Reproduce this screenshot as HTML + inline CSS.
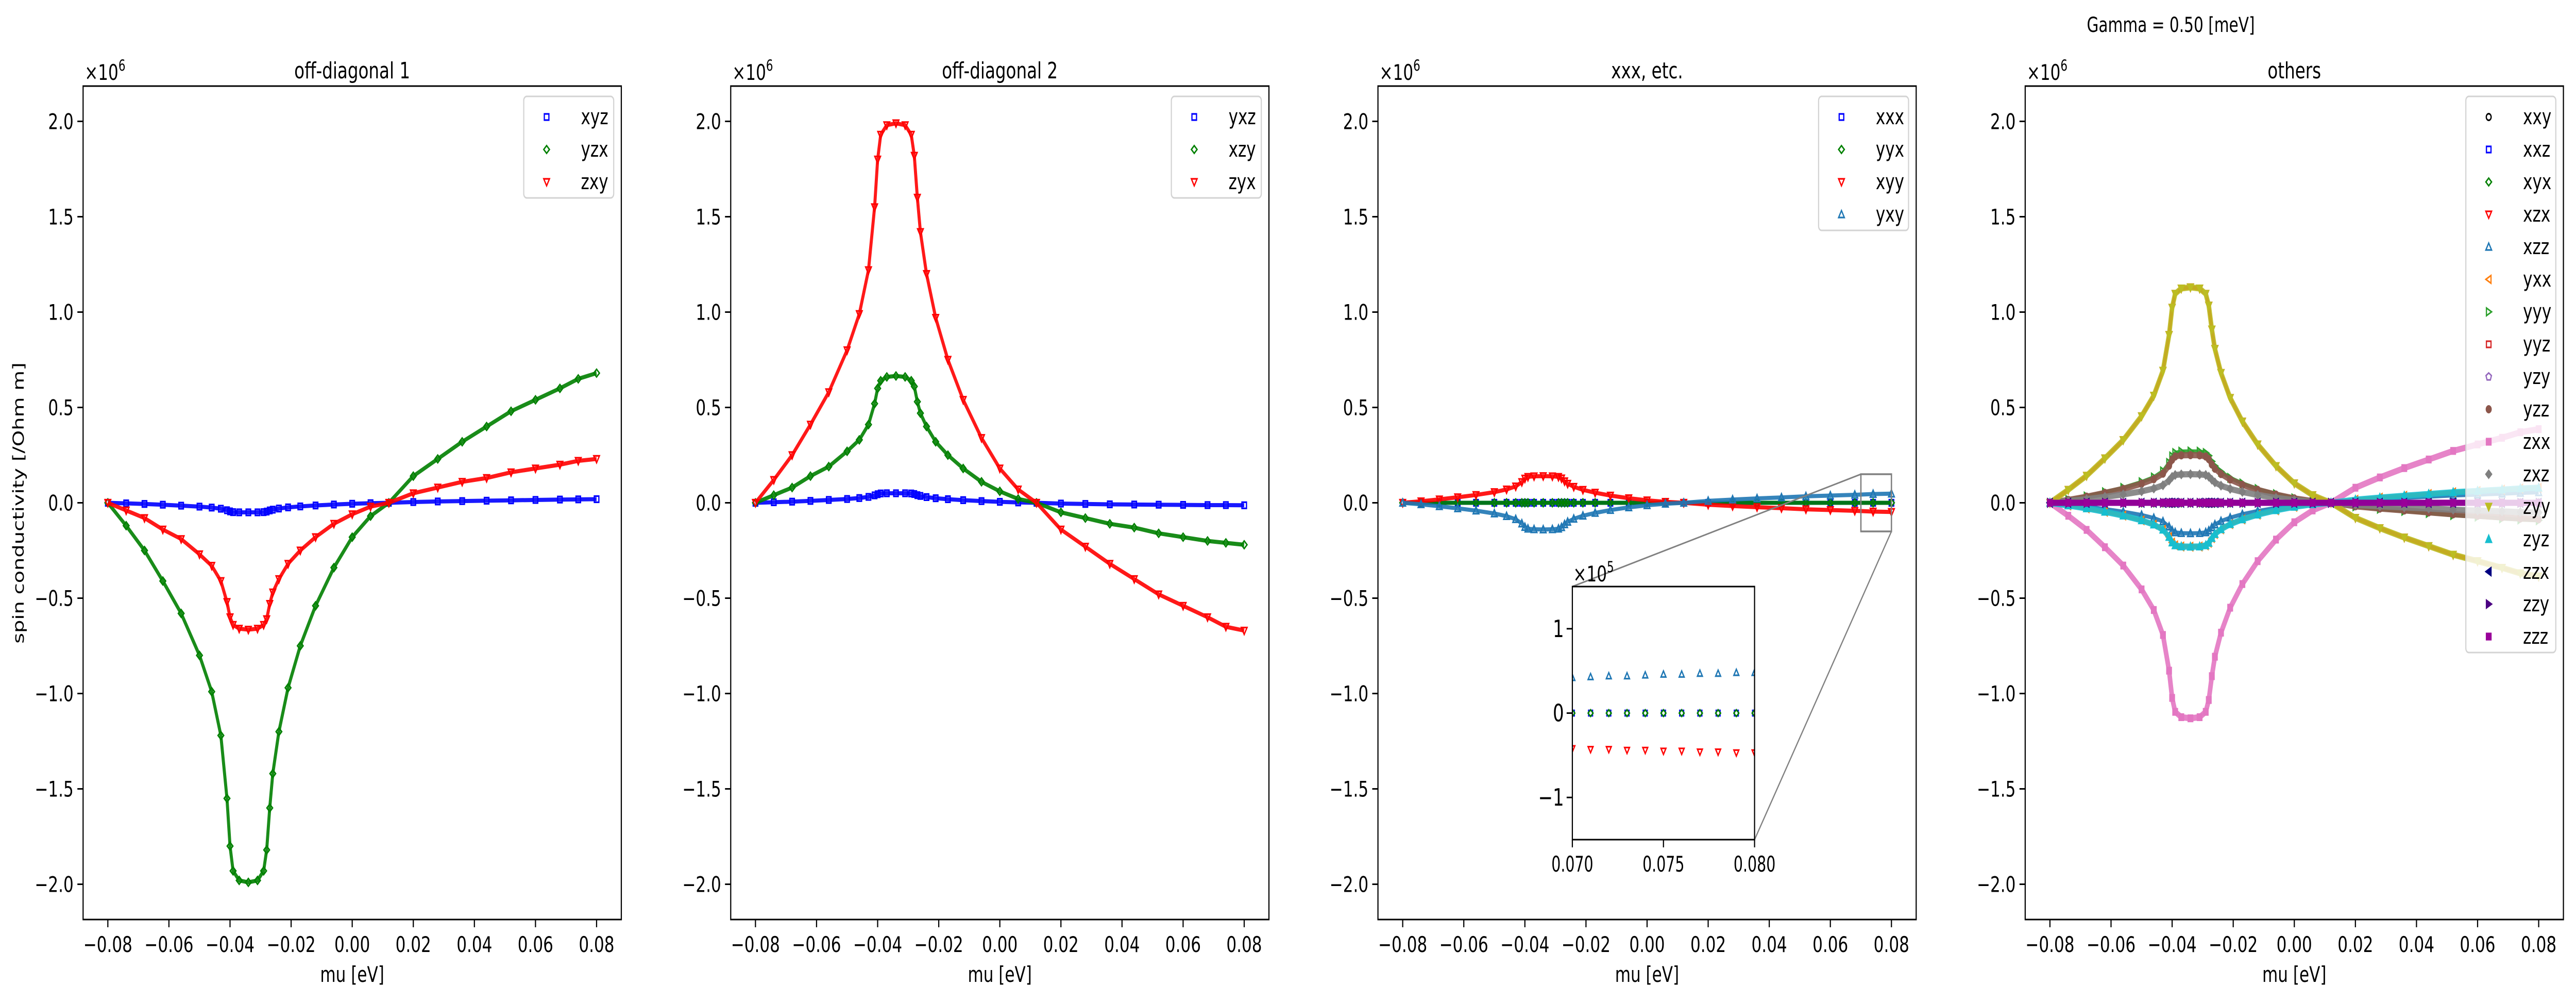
<!DOCTYPE html>
<html><head><meta charset="utf-8">
<style>
html,body{margin:0;padding:0;background:#fff;width:100vw;height:100vh;overflow:hidden;}
svg{display:block;width:100vw;height:100vh;font-family:"DejaVu Sans","Liberation Sans",sans-serif;}
</style></head>
<body>
<svg id="fig" viewBox="0 0 6758 1944" preserveAspectRatio="none" xmlns="http://www.w3.org/2000/svg">
<rect x="0" y="0" width="6758" height="1944" fill="#fff"/>
<text x="5695" y="62" font-size="40" text-anchor="middle">Gamma = 0.50 [meV]</text>
<text transform="translate(62,976) rotate(-90)" font-size="40" text-anchor="middle">spin conductivity [/Ohm m]</text>
</svg>
<script>
// shared chemical potential grid (eV)
const mu = [-0.080,-0.074,-0.068,-0.062,-0.056,-0.050,-0.046,-0.043,-0.041,-0.040,-0.039,-0.037,-0.034,-0.031,-0.029,-0.028,-0.027,-0.026,-0.024,-0.021,-0.017,-0.012,-0.006,0.000,0.006,0.012,0.020,0.028,0.036,0.044,0.052,0.060,0.068,0.074,0.080];
// values in units of 1e6 /Ohm m
const yzx = [0,-0.12,-0.25,-0.41,-0.58,-0.80,-0.99,-1.22,-1.55,-1.80,-1.93,-1.98,-1.99,-1.98,-1.93,-1.82,-1.60,-1.42,-1.20,-0.97,-0.75,-0.54,-0.34,-0.18,-0.07,0,0.14,0.23,0.32,0.40,0.48,0.54,0.60,0.65,0.68];
const zxy = [0,-0.04,-0.08,-0.14,-0.19,-0.27,-0.33,-0.41,-0.52,-0.60,-0.64,-0.66,-0.665,-0.66,-0.64,-0.61,-0.53,-0.47,-0.40,-0.32,-0.25,-0.18,-0.11,-0.06,-0.02,0,0.05,0.08,0.11,0.13,0.16,0.18,0.20,0.22,0.23];
const xyz = [0,-0.003,-0.006,-0.01,-0.015,-0.02,-0.025,-0.031,-0.039,-0.045,-0.049,-0.05,-0.05,-0.05,-0.049,-0.046,-0.04,-0.036,-0.03,-0.024,-0.019,-0.014,-0.009,-0.005,-0.002,0,0.004,0.007,0.009,0.011,0.013,0.015,0.017,0.018,0.019];
const zyx = [0,0.12,0.25,0.41,0.58,0.80,0.99,1.22,1.55,1.80,1.93,1.98,1.99,1.98,1.93,1.82,1.60,1.42,1.20,0.97,0.75,0.54,0.34,0.18,0.07,0,-0.14,-0.23,-0.32,-0.40,-0.48,-0.54,-0.60,-0.65,-0.67];
const xzy = [0,0.04,0.08,0.14,0.19,0.27,0.33,0.41,0.52,0.60,0.64,0.66,0.665,0.66,0.64,0.61,0.53,0.47,0.40,0.32,0.25,0.18,0.11,0.06,0.02,0,-0.05,-0.08,-0.11,-0.13,-0.16,-0.18,-0.20,-0.21,-0.22];
const yxz = [0,0.003,0.006,0.01,0.015,0.02,0.025,0.031,0.039,0.045,0.049,0.05,0.05,0.05,0.049,0.046,0.04,0.036,0.03,0.024,0.019,0.014,0.009,0.005,0.002,0,-0.004,-0.006,-0.008,-0.009,-0.01,-0.011,-0.012,-0.012,-0.013];
const xxx = [0,0,0,0,0,0,0,0,0,0,0,0,0,0,0,0,0,0,0,0,0,0,0,0,0,0,0,0,0,0,0,0,0,0,0];
const yyx = [0,0,0,0,0,0,0,0,0,0,0,0,0,0,0,0,0,0,0,0,0,0,0,0,0,0,0,0,0,0,0,0,0,0,0];
const xyy = [0,0.008,0.018,0.029,0.041,0.056,0.07,0.086,0.109,0.127,0.136,0.139,0.14,0.139,0.136,0.128,0.113,0.1,0.084,0.068,0.053,0.038,0.024,0.013,0.005,0,-0.01,-0.017,-0.023,-0.028,-0.034,-0.038,-0.042,-0.046,-0.048];
const yxy = [0,-0.008,-0.018,-0.029,-0.041,-0.056,-0.07,-0.086,-0.109,-0.127,-0.136,-0.139,-0.14,-0.139,-0.136,-0.128,-0.113,-0.1,-0.084,-0.068,-0.053,-0.038,-0.024,-0.013,-0.005,0,0.01,0.017,0.023,0.028,0.034,0.038,0.042,0.046,0.048];
// inset (units of 1e5)
const muInset = [0.070,0.071,0.072,0.073,0.074,0.075,0.076,0.077,0.078,0.079,0.080];
const xxxInset = [0,0,0,0,0,0,0,0,0,0,0];
const yyxInset = [0,0,0,0,0,0,0,0,0,0,0];
const xyyInset = [-0.42,-0.43,-0.43,-0.44,-0.44,-0.45,-0.45,-0.46,-0.46,-0.47,-0.47];
const yxyInset = [0.42,0.43,0.44,0.44,0.45,0.46,0.46,0.47,0.47,0.48,0.48];
// panel 4
const zeros4 = [0,0,0,0,0,0,0,0,0,0,0,0,0,0,0,0,0,0,0,0,0,0,0,0,0,0,0,0,0,0,0,0,0,0,0];
const zyy = [0,0.068,0.142,0.233,0.329,0.454,0.562,0.693,0.88,1.023,1.096,1.124,1.13,1.124,1.096,1.034,0.909,0.807,0.681,0.55,0.426,0.306,0.193,0.102,0.04,0,-0.079,-0.133,-0.182,-0.227,-0.272,-0.306,-0.341,-0.37,-0.386];
const xzx = [0,0.068,0.142,0.233,0.329,0.454,0.562,0.693,0.88,1.023,1.096,1.124,1.13,1.124,1.096,1.034,0.909,0.807,0.681,0.55,0.426,0.306,0.193,0.102,0.04,0,-0.079,-0.133,-0.182,-0.227,-0.272,-0.306,-0.341,-0.37,-0.386];
const zxx = [0,-0.068,-0.142,-0.233,-0.329,-0.454,-0.562,-0.693,-0.88,-1.023,-1.096,-1.124,-1.13,-1.124,-1.096,-1.034,-0.909,-0.807,-0.681,-0.55,-0.426,-0.306,-0.193,-0.102,-0.04,0,0.079,0.133,0.182,0.227,0.272,0.306,0.341,0.37,0.386];
const zyz = [0,-0.014,-0.029,-0.047,-0.067,-0.092,-0.114,-0.141,-0.179,-0.208,-0.223,-0.229,-0.23,-0.229,-0.223,-0.21,-0.185,-0.164,-0.139,-0.112,-0.087,-0.062,-0.039,-0.021,-0.008,0,0.016,0.027,0.037,0.046,0.055,0.062,0.069,0.075,0.079];
const yxx = [0,-0.014,-0.029,-0.047,-0.067,-0.092,-0.114,-0.141,-0.179,-0.208,-0.223,-0.229,-0.23,-0.229,-0.223,-0.21,-0.185,-0.164,-0.139,-0.112,-0.087,-0.062,-0.039,-0.021,-0.008,0,0.016,0.027,0.037,0.046,0.055,0.062,0.069,0.075,0.079];
const xzz = [0,-0.01,-0.02,-0.033,-0.047,-0.064,-0.08,-0.098,-0.125,-0.145,-0.155,-0.159,-0.16,-0.159,-0.155,-0.146,-0.129,-0.114,-0.096,-0.078,-0.06,-0.043,-0.027,-0.014,-0.006,0,0.011,0.019,0.026,0.032,0.039,0.043,0.048,0.052,0.055];
const yzz = [0,0.015,0.032,0.052,0.073,0.1,0.124,0.153,0.195,0.226,0.243,0.249,0.25,0.249,0.243,0.229,0.201,0.179,0.151,0.122,0.094,0.068,0.043,0.023,0.009,0,-0.018,-0.03,-0.04,-0.05,-0.06,-0.068,-0.076,-0.082,-0.086];
const yyy = [0,0.016,0.034,0.056,0.079,0.109,0.134,0.166,0.21,0.244,0.262,0.269,0.27,0.269,0.262,0.247,0.217,0.193,0.163,0.131,0.102,0.073,0.046,0.024,0.009,0,-0.019,-0.032,-0.043,-0.054,-0.065,-0.073,-0.082,-0.088,-0.092];
const zxz = [0,0.009,0.019,0.031,0.044,0.06,0.075,0.092,0.117,0.136,0.146,0.149,0.15,0.149,0.146,0.137,0.121,0.107,0.09,0.073,0.057,0.041,0.026,0.014,0.005,0,-0.011,-0.018,-0.024,-0.03,-0.036,-0.041,-0.045,-0.049,-0.051];
const xTicks = [-0.08,-0.06,-0.04,-0.02,0.00,0.02,0.04,0.06,0.08];
const xTickLabels = ["\u22120.08","\u22120.06","\u22120.04","\u22120.02","0.00","0.02","0.04","0.06","0.08"];
const yTicks = [2.0,1.5,1.0,0.5,0.0,-0.5,-1.0,-1.5,-2.0];
const yTickLabels = ["2.0","1.5","1.0","0.5","0.0","\u22120.5","\u22121.0","\u22121.5","\u22122.0"];
const insetXTicks = [0.070,0.075,0.080];
const insetXTickLabels = ["0.070","0.075","0.080"];
const insetYTicks = [1,0,-1];
const insetYTickLabels = ["1","0","\u22121"];

const NS = "http://www.w3.org/2000/svg";
const svg = document.getElementById('fig');
function el(tag, attrs, parent){
  const e = document.createElementNS(NS, tag);
  for (const k in attrs) e.setAttribute(k, attrs[k]);
  (parent||svg).appendChild(e);
  return e;
}
const PANEL_LEFTS = [218, 1917, 3615, 5313];
const PW = 1412, TOP = 167, BOT = 1784;
const XMIN = -0.0881, XMAX = 0.0881, YMIN = -2.185, YMAX = 2.185;
function xScale(p, v){ return PANEL_LEFTS[p] + (v - XMIN) / (XMAX - XMIN) * PW; }
function yScale(v){ return BOT - (v - YMIN) / (YMAX - YMIN) * (BOT - TOP); }

function marker(g, type, x, y, s, color, filled){
  const sw = 3.2;
  const fill = filled ? color : 'none';
  const h = s/2;
  let m;
  if (type === 'o') m = el('circle', {cx:x, cy:y, r:h*0.85, fill:fill, stroke:color, 'stroke-width':sw}, g);
  else if (type === 's') m = el('rect', {x:x-h*0.8, y:y-h*0.8, width:s*0.8, height:s*0.8, fill:fill, stroke:color, 'stroke-width':sw}, g);
  else if (type === 'D') m = el('polygon', {points:`${x},${y-h} ${x+h},${y} ${x},${y+h} ${x-h},${y}`, fill:fill, stroke:color, 'stroke-width':sw}, g);
  else if (type === 'v') m = el('polygon', {points:`${x-h},${y-h*0.8} ${x+h},${y-h*0.8} ${x},${y+h}`, fill:fill, stroke:color, 'stroke-width':sw}, g);
  else if (type === '^') m = el('polygon', {points:`${x-h},${y+h*0.8} ${x+h},${y+h*0.8} ${x},${y-h}`, fill:fill, stroke:color, 'stroke-width':sw}, g);
  else if (type === '<') m = el('polygon', {points:`${x+h*0.8},${y-h} ${x+h*0.8},${y+h} ${x-h},${y}`, fill:fill, stroke:color, 'stroke-width':sw}, g);
  else if (type === '>') m = el('polygon', {points:`${x-h*0.8},${y-h} ${x-h*0.8},${y+h} ${x+h},${y}`, fill:fill, stroke:color, 'stroke-width':sw}, g);
  else if (type === 'p') {
    let pts = [];
    for (let i=0;i<5;i++){ const a = -Math.PI/2 + i*2*Math.PI/5; pts.push((x+h*Math.cos(a))+','+(y+h*Math.sin(a))); }
    m = el('polygon', {points:pts.join(' '), fill:fill, stroke:color, 'stroke-width':sw}, g);
  }
  return m;
}

const panels = [
  {title:'off-diagonal 1', series:[
    {name:'xyz', vals:xyz, type:'s', color:'#0000ff', filled:false},
    {name:'yzx', vals:yzx, type:'D', color:'#008000', filled:false},
    {name:'zxy', vals:zxy, type:'v', color:'#ff0000', filled:false}]},
  {title:'off-diagonal 2', series:[
    {name:'yxz', vals:yxz, type:'s', color:'#0000ff', filled:false},
    {name:'xzy', vals:xzy, type:'D', color:'#008000', filled:false},
    {name:'zyx', vals:zyx, type:'v', color:'#ff0000', filled:false}]},
  {title:'xxx, etc.', series:[
    {name:'xxx', vals:xxx, type:'s', color:'#0000ff', filled:false},
    {name:'yyx', vals:yyx, type:'D', color:'#008000', filled:false},
    {name:'xyy', vals:xyy, type:'v', color:'#ff0000', filled:false},
    {name:'yxy', vals:yxy, type:'^', color:'#1f77b4', filled:false}]},
  {title:'others', series:[
    {name:'xxy', vals:zeros4, type:'o', color:'#000000', filled:false},
    {name:'xxz', vals:zeros4, type:'s', color:'#0000ff', filled:false},
    {name:'xyx', vals:zeros4, type:'D', color:'#008000', filled:false},
    {name:'xzx', vals:xzx, type:'v', color:'#ff0000', filled:false},
    {name:'xzz', vals:xzz, type:'^', color:'#1f77b4', filled:false},
    {name:'yxx', vals:yxx, type:'<', color:'#ff7f0e', filled:false},
    {name:'yyy', vals:yyy, type:'>', color:'#2ca02c', filled:false},
    {name:'yyz', vals:zeros4, type:'s', color:'#d62728', filled:false},
    {name:'yzy', vals:zeros4, type:'p', color:'#9467bd', filled:false},
    {name:'yzz', vals:yzz, type:'o', color:'#8c564b', filled:true},
    {name:'zxx', vals:zxx, type:'s', color:'#e377c2', filled:true},
    {name:'zxz', vals:zxz, type:'D', color:'#7f7f7f', filled:true},
    {name:'zyy', vals:zyy, type:'v', color:'#bcbd22', filled:true},
    {name:'zyz', vals:zyz, type:'^', color:'#17becf', filled:true},
    {name:'zzx', vals:zeros4, type:'<', color:'#000080', filled:true},
    {name:'zzy', vals:zeros4, type:'>', color:'#4b0082', filled:true},
    {name:'zzz', vals:zeros4, type:'s', color:'#990099', filled:true}]}
];

panels.forEach((P, pi) => {
  const L = PANEL_LEFTS[pi];
  const g = el('g', {});
  
  
  const t = el('text', {x:L+PW/2, y:152, 'font-size':44, 'text-anchor':'middle'}, g);
  t.textContent = P.title;
  
  
  const off = el('text', {x:L+4, y:155, 'font-size':42}, g);
  
  
  off.innerHTML = '\u00d710<tspan dy="-18" font-size="29">6</tspan>';
  const clip = 'clip' + pi;
  const cp = el('clipPath', {id:clip}, g);
  el('rect', {x:L, y:TOP, width:PW, height:BOT-TOP}, cp);
  const dg = el('g', {'clip-path':`url(#${clip})`}, g);
  
  
  P.series.forEach(S => {
    const sg = el('g', {}, dg);
    
    
    const pts = mu.map((m,i) => xScale(pi,m)+','+yScale(S.vals[i])).join(' ');
    const ln = el('polyline', {points:pts, fill:'none', stroke:S.color, 'stroke-width':S.filled?12:8, 'stroke-linejoin':'round', 'stroke-opacity':0.9}, sg);
    
    
    mu.forEach((m,i) => {
      const mk = marker(sg, S.type, xScale(pi,m), yScale(S.vals[i]), 15, S.color, S.filled);
      
      
    });
  });
  const fr = el('rect', {x:L, y:TOP, width:PW, height:BOT-TOP, fill:'none', stroke:'#000', 'stroke-width':3}, g);
  
  
  xTicks.forEach((v,i) => {
    const x = xScale(pi, v);
    const tk = el('line', {x1:x, y1:BOT, x2:x, y2:BOT+15, stroke:'#000', 'stroke-width':3}, g);
    
    
    const tl = el('text', {x:x, y:1847, 'font-size':42, 'text-anchor':'middle'}, g);
    tl.textContent = xTickLabels[i];
    
    
  });
  yTicks.forEach((v,i) => {
    const y = yScale(v);
    const tk = el('line', {x1:L-15, y1:y, x2:L, y2:y, stroke:'#000', 'stroke-width':3}, g);
    
    
    const tl = el('text', {x:L-25, y:y+15, 'font-size':42, 'text-anchor':'end'}, g);
    tl.textContent = yTickLabels[i];
    
    
  });
  const xl = el('text', {x:L+PW/2, y:1905, 'font-size':42, 'text-anchor':'middle'}, g);
  xl.textContent = 'mu [eV]';
  
  
  const n = P.series.length, rowH = 63;
  const bx = L + PW - 256, by = 187, bh = n*rowH + 8;
  const lg = el('g', {}, g);
  
  
  el('rect', {x:bx, y:by, width:236, height:bh, rx:8, fill:'#fff', 'fill-opacity':0.8, stroke:'#d3d3d3', 'stroke-width':3}, lg);
  P.series.forEach((S, i) => {
    const cy = by + 40 + i*rowH;
    const mk = marker(lg, S.type, bx+60, cy, 15, S.color, S.filled);
    
    
    const tx = el('text', {x:bx+150, y:cy+14, 'font-size':42}, lg);
    tx.textContent = S.name;
    
    
  });
});

(function(){
  const IX0 = 4125, IX1 = 4603, IY0 = 1138, IY1 = 1629;
  const ixs = v => IX0 + (v - 0.070) / 0.010 * (IX1 - IX0);
  const iys = v => IY1 - (v + 1.5) / 3.0 * (IY1 - IY0);
  const g = el('g', {});
  
  
  const bx0 = xScale(2, 0.070), bx1 = xScale(2, 0.080), by0 = yScale(0.15), by1 = yScale(-0.15);
  const ib = el('rect', {x:bx0, y:by0, width:bx1-bx0, height:by1-by0, fill:'none', stroke:'#808080', 'stroke-width':3.5}, g);
  
  
  const c1 = el('line', {x1:bx0, y1:by0, x2:IX0, y2:IY0, stroke:'#808080', 'stroke-width':3}, g);
  
  
  const c2 = el('line', {x1:bx1, y1:by1, x2:IX1, y2:IY1, stroke:'#808080', 'stroke-width':3}, g);
  
  
  el('rect', {x:IX0, y:IY0, width:IX1-IX0, height:IY1-IY0, fill:'#fff'}, g);
  const inS = [
    {name:'xxx', vals:xxxInset, type:'s', color:'#0000ff'},
    {name:'yyx', vals:yyxInset, type:'D', color:'#008000'},
    {name:'xyy', vals:xyyInset, type:'v', color:'#ff0000'},
    {name:'yxy', vals:yxyInset, type:'^', color:'#1f77b4'}];
  const cpi = el('clipPath', {id:'clipInset'}, g);
  el('rect', {x:IX0, y:IY0, width:IX1-IX0, height:IY1-IY0}, cpi);
  const dg = el('g', {'clip-path':'url(#clipInset)'}, g);
  inS.forEach(S => {
    muInset.forEach((m,i) => {
      const mk = marker(dg, S.type, ixs(m), iys(S.vals[i]), 13, S.color, false);
      
      
    });
  });
  const fr = el('rect', {x:IX0, y:IY0, width:IX1-IX0, height:IY1-IY0, fill:'none', stroke:'#000', 'stroke-width':3}, g);
  
  
  insetXTicks.forEach((v,i) => {
    const x = ixs(v);
    el('line', {x1:x, y1:IY1, x2:x, y2:IY1+15, stroke:'#000', 'stroke-width':3}, g);
    const t = el('text', {x:x, y:IY1+62, 'font-size':42, 'text-anchor':'middle', 'textLength':110, 'lengthAdjust':'spacingAndGlyphs'}, g);
    t.textContent = insetXTickLabels[i];
    
    
  });
  insetYTicks.forEach((v,i) => {
    const y = iys(v);
    el('line', {x1:IX0-15, y1:y, x2:IX0, y2:y, stroke:'#000', 'stroke-width':3}, g);
    const t = el('text', {x:IX0-22, y:y+16, 'font-size':46, 'text-anchor':'end'}, g);
    t.textContent = insetYTickLabels[i];
    
    
  });
  const off = el('text', {x:IX0+2, y:IY0-10, 'font-size':42}, g);
  off.innerHTML = '\u00d710<tspan dy="-18" font-size="29">5</tspan>';
  
  
})();
</script>
</body></html>
